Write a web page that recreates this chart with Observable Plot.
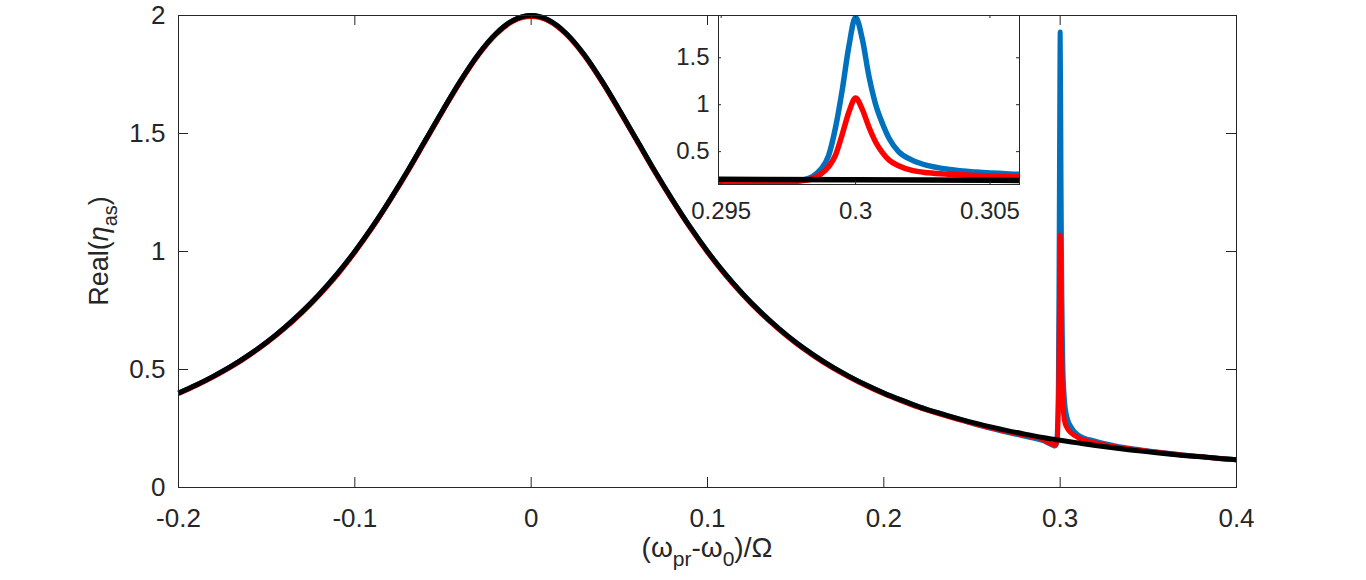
<!DOCTYPE html>
<html>
<head>
<meta charset="utf-8">
<script src="https://cdn.jsdelivr.net/npm/d3@7"></script>
<script src="https://cdn.jsdelivr.net/npm/@observablehq/plot@0.6"></script>
<style>
  body { margin: 0; background: #fff; }
  #chart { position: relative; width: 1366px; height: 580px; }
</style>
</head>
<body>
<div id="chart"></div>
<script>
// Probe detuning grid for the bare response (black curve)
const detuning = [
  -0.20, -0.19, -0.18, -0.17, -0.16, -0.15, -0.14, -0.13, -0.12, -0.11,
  -0.10, -0.09, -0.08, -0.07, -0.06, -0.05, -0.04, -0.03, -0.02, -0.01,
   0.00,  0.01,  0.02,  0.03,  0.04,  0.05,  0.06,  0.07,  0.08,  0.09,
   0.10,  0.11,  0.12,  0.13,  0.14,  0.15,  0.16,  0.17,  0.18,  0.19,
   0.20,  0.21,  0.22,  0.23,  0.24,  0.25,  0.26,  0.27,  0.28,  0.29,
   0.30,  0.31,  0.32,  0.33,  0.34,  0.35,  0.36,  0.37,  0.38,  0.39,
   0.40
];
const etaBare = [
  0.400, 0.434, 0.472, 0.514, 0.562, 0.615, 0.676, 0.744, 0.820, 0.905,
  1.000, 1.105, 1.220, 1.342, 1.471, 1.600, 1.724, 1.835, 1.923, 1.980,
  2.000, 1.980, 1.923, 1.835, 1.724, 1.600, 1.471, 1.342, 1.220, 1.105,
  1.000, 0.905, 0.820, 0.744, 0.676, 0.615, 0.562, 0.514, 0.472, 0.434,
  0.400, 0.370, 0.342, 0.318, 0.296, 0.276, 0.258, 0.241, 0.226, 0.212,
  0.200, 0.189, 0.178, 0.168, 0.159, 0.151, 0.143, 0.136, 0.130, 0.123,
  0.118
];

// Finer grid around the resonance at 0.3 (blue and red curves)
const detuningProbe = [
  -0.20, -0.19, -0.18, -0.17, -0.16, -0.15, -0.14, -0.13, -0.12, -0.11,
  -0.10, -0.09, -0.08, -0.07, -0.06, -0.05, -0.04, -0.03, -0.02, -0.01,
   0.00,  0.01,  0.02,  0.03,  0.04,  0.05,  0.06,  0.07,  0.08,  0.09,
   0.10,  0.11,  0.12,  0.13,  0.14,  0.15,  0.16,  0.17,  0.18,  0.19,
   0.20,  0.21,  0.22,  0.23,  0.24,  0.25,  0.26,  0.27,  0.28,  0.29,
   0.2948, 0.2960, 0.2970, 0.2976, 0.2980, 0.2984, 0.2987, 0.2990, 0.29925, 0.2995,
   0.29975, 0.3000, 0.30025, 0.3005, 0.30075, 0.3010, 0.30125, 0.3016, 0.3021, 0.3027,
   0.3035, 0.3045, 0.3061,
   0.31, 0.32, 0.33, 0.34, 0.35, 0.36, 0.37, 0.38, 0.39, 0.40
];
const etaStrong = [
  0.400, 0.434, 0.472, 0.514, 0.562, 0.615, 0.676, 0.744, 0.820, 0.905,
  1.000, 1.105, 1.220, 1.342, 1.471, 1.600, 1.724, 1.835, 1.923, 1.980,
  2.000, 1.980, 1.923, 1.835, 1.724, 1.600, 1.471, 1.342, 1.220, 1.105,
  1.000, 0.905, 0.820, 0.744, 0.676, 0.615, 0.562, 0.514, 0.472, 0.434,
  0.400, 0.370, 0.342, 0.318, 0.296, 0.272, 0.252, 0.234, 0.217, 0.199,
  0.182, 0.178, 0.176, 0.180, 0.195, 0.235, 0.310, 0.460, 0.750, 1.150,
  1.620, 1.930, 1.700, 1.300, 1.000, 0.800, 0.640, 0.500, 0.410, 0.350,
  0.310, 0.282, 0.258,
  0.224, 0.196, 0.178, 0.165, 0.155, 0.146, 0.138, 0.131, 0.124, 0.118
];
const etaWeak = [
  0.398, 0.432, 0.470, 0.512, 0.560, 0.613, 0.673, 0.741, 0.817, 0.901,
  0.997, 1.102, 1.217, 1.339, 1.468, 1.597, 1.721, 1.832, 1.920, 1.977,
  1.996, 1.977, 1.920, 1.832, 1.721, 1.597, 1.468, 1.339, 1.217, 1.102,
  0.997, 0.902, 0.817, 0.741, 0.673, 0.612, 0.559, 0.511, 0.469, 0.431,
  0.397, 0.367, 0.339, 0.315, 0.293, 0.273, 0.254, 0.237, 0.221, 0.205,
  0.185, 0.183, 0.181, 0.183, 0.190, 0.212, 0.260, 0.340, 0.460, 0.680,
  0.920, 1.070, 0.950, 0.760, 0.600, 0.490, 0.410, 0.350, 0.300, 0.275,
  0.258, 0.245, 0.232,
  0.212, 0.189, 0.174, 0.163, 0.154, 0.145, 0.137, 0.130, 0.123, 0.117
];

const xTicks = [-0.2, -0.1, 0, 0.1, 0.2, 0.3, 0.4];
const xTickLabels = ["-0.2", "-0.1", "0", "0.1", "0.2", "0.3", "0.4"];
const yTicks = [0, 0.5, 1, 1.5, 2];
const yTickLabels = ["0", "0.5", "1", "1.5", "2"];
const insetXTicks = [0.295, 0.3, 0.305];
const insetXTickLabels = ["0.295", "0.3", "0.305"];
const insetYTicks = [0.5, 1, 1.5];
const insetYTickLabels = ["0.5", "1", "1.5"];

const bare = detuning.map((x, i) => ({x, y: etaBare[i]}));
const strong = detuningProbe.map((x, i) => ({x, y: etaStrong[i]}));
const weak = detuningProbe.map((x, i) => ({x, y: etaWeak[i]}));

const font = "'Liberation Sans', Arial, Helvetica, sans-serif";
const ink = "#262626";
const blue = "#0072BD", red = "#FF0000", black = "#000000";

// Main axes
const W = 1366, H = 580, mL = 178, mR = 130, mT = 15, mB = 93;
const iw = W - mL - mR, ih = H - mT - mB;
const fmt = (ticks, labels) => d => labels[ticks.indexOf(d)];

const curves = (lw, clip, cap) => [
  Plot.line(strong, {x: "x", y: "y", stroke: blue, strokeWidth: lw, curve: "monotone-x", clip, strokeLinecap: cap}),
  Plot.line(weak, {x: "x", y: "y", stroke: red, strokeWidth: lw, curve: "monotone-x", clip, strokeLinecap: cap}),
  Plot.line(bare, {x: "x", y: "y", stroke: black, strokeWidth: lw, curve: "monotone-x", clip, strokeLinecap: cap})
];

const main = Plot.plot({
  width: W, height: H,
  marginLeft: mL, marginRight: mR, marginTop: mT, marginBottom: mB,
  style: {fontFamily: font, background: "white", overflow: "visible"},
  x: {domain: [-0.2, 0.4]},
  y: {domain: [0, 2]},
  marks: [
    ...curves(5, false, "butt"),
    Plot.frame({stroke: ink, strokeWidth: 1}),
    Plot.tickX(xTicks, {x: d => d, stroke: ink, insetTop: ih - 10}),
    Plot.tickX(xTicks, {x: d => d, stroke: ink, insetBottom: ih - 10}),
    Plot.tickY(yTicks, {y: d => d, stroke: ink, insetRight: iw - 10}),
    Plot.tickY(yTicks, {y: d => d, stroke: ink, insetLeft: iw - 10}),
    Plot.axisX({ticks: xTicks, tickSize: 0, tickPadding: 21, tickFormat: fmt(xTicks, xTickLabels),
                fontSize: 26, fill: ink, label: null}),
    Plot.axisY({ticks: yTicks, tickSize: 0, tickPadding: 13, tickFormat: fmt(yTicks, yTickLabels),
                fontSize: 26, fill: ink, label: null})
  ]
});

// Axis titles with sub-scripted symbols
const svg = d3.select(main);
const xt = svg.append("text")
  .attr("x", mL + iw / 2).attr("y", 557)
  .attr("text-anchor", "middle")
  .attr("font-family", font).attr("font-size", 28).attr("fill", ink);
xt.append("tspan").text("(ω");
xt.append("tspan").attr("dy", 9).attr("font-size", 21).text("pr");
xt.append("tspan").attr("dy", -9).text("-ω");
xt.append("tspan").attr("dy", 9).attr("font-size", 21).text("0");
xt.append("tspan").attr("dy", -9).text(")/Ω");

const yt = svg.append("text")
  .attr("transform", `translate(108,${mT + ih / 2}) rotate(-90)`)
  .attr("text-anchor", "middle")
  .attr("font-family", font).attr("font-size", 27).attr("fill", ink);
yt.append("tspan").text("Real(");
yt.append("tspan").attr("font-style", "italic").text("η");
yt.append("tspan").attr("dy", 9).attr("font-size", 20).text("as");
yt.append("tspan").attr("dy", -9).text(")");

// Inset: zoom on the resonance
const insetLeft = 640, insetTop = 0;
const inset = Plot.plot({
  width: 404, height: 230,
  marginLeft: 78, marginRight: 25, marginTop: 15, marginBottom: 46,
  style: {fontFamily: font, background: "transparent", overflow: "visible"},
  x: {domain: [0.2949, 0.3061]},
  y: {domain: [0.15, 1.95]},
  marks: [
    Plot.frame({fill: "white", stroke: null}),
    ...curves(5.5, true, "round"),
    Plot.frame({stroke: ink, strokeWidth: 1}),
    Plot.tickX(insetXTicks, {x: d => d, stroke: ink, insetTop: 169 - 3}),
    Plot.tickX(insetXTicks, {x: d => d, stroke: ink, insetBottom: 169 - 3}),
    Plot.tickY(insetYTicks, {y: d => d, stroke: ink, insetRight: 301 - 3}),
    Plot.tickY(insetYTicks, {y: d => d, stroke: ink, insetLeft: 301 - 3}),
    Plot.axisX({ticks: insetXTicks, tickSize: 0, tickPadding: 17, tickFormat: fmt(insetXTicks, insetXTickLabels),
                fontSize: 24, fill: ink, label: null}),
    Plot.axisY({ticks: insetYTicks, tickSize: 0, tickPadding: 9, tickFormat: fmt(insetYTicks, insetYTickLabels),
                fontSize: 24, fill: ink, label: null})
  ]
});
inset.style.position = "absolute";
inset.style.left = insetLeft + "px";
inset.style.top = insetTop + "px";

const chart = document.getElementById("chart");
chart.appendChild(main);
chart.appendChild(inset);
</script>
</body>
</html>
